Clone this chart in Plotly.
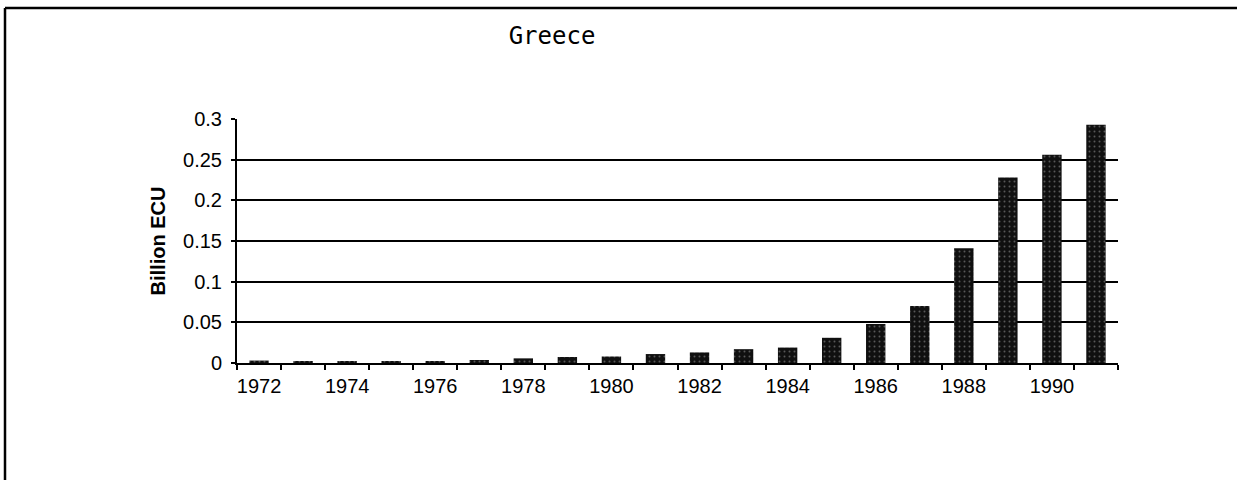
import plotly.graph_objects as go

years = list(range(1972, 1992))
values = [0.003, 0.0017, 0.0017, 0.0025, 0.002, 0.0037, 0.0057, 0.0074, 0.008, 0.011,
          0.013, 0.017, 0.019, 0.031, 0.048, 0.070, 0.141, 0.228, 0.256, 0.293]
x_tick_labels = [str(y) for y in range(1972, 1992, 2)]
y_tick_vals = [0, 0.05, 0.1, 0.15, 0.2, 0.25, 0.3]
y_tick_text = ["0", "0.05", "0.1", "0.15", "0.2", "0.25", "0.3"]
y_grid_vals = [0.05, 0.1, 0.15, 0.2, 0.25]

boundaries = [y - 0.5 for y in years] + [years[-1] + 0.5]

fig = go.Figure()
fig.add_trace(go.Bar(
    x=years, y=values,
    marker=dict(color="#101010", line=dict(width=0),
                pattern=dict(shape=".", fgcolor="#a0a0a0", bgcolor="#101010", size=5, solidity=0.12)),
    width=0.44,
    showlegend=False,
))

L, R, T, B = 237, 119, 119, 117
W, H = 1237, 480
pw, ph = W - L - R, H - T - B

def px_x(p):
    return (p - L) / pw

def px_y(p):
    return (H - B - p) / ph

fig.update_layout(
    width=W, height=H,
    margin=dict(l=L, r=R, t=T, b=B),
    paper_bgcolor="white", plot_bgcolor="white",
    font=dict(family="Liberation Sans, Arial, sans-serif", color="black", size=19),
    title=dict(text="Greece", xref="container", x=552 / W, xanchor="center",
               yref="container", y=1 - 36 / H, yanchor="middle",
               font=dict(family="DejaVu Sans Mono, monospace", size=24, color="black")),
    xaxis=dict(
        range=[boundaries[0], boundaries[-1]],
        tickmode="array", tickvals=list(range(1972, 1992, 2)), ticktext=x_tick_labels,
        ticks="", showgrid=False, zeroline=False,
        showline=True, linecolor="black", linewidth=2,
        tickfont=dict(size=20), ticklabelstandoff=4,
        minor=dict(tickmode="array", tickvals=boundaries, ticks="outside", ticklen=5,
                   tickwidth=2, tickcolor="black", showgrid=False),
    ),
    xaxis2=dict(
        overlaying="x", matches="x", range=[boundaries[0], boundaries[-1]],
        tickmode="array", tickvals=boundaries, ticks="inside", ticklen=4, tickwidth=2,
        tickcolor="black", showticklabels=False, showgrid=False, zeroline=False, showline=False,
    ),
    yaxis=dict(
        range=[0, 0.3],
        tickmode="array", tickvals=y_tick_vals, ticktext=y_tick_text,
        ticks="outside", ticklen=4, tickwidth=2, tickcolor="black",
        showgrid=False, zeroline=False,
        showline=True, linecolor="black", linewidth=2,
        tickfont=dict(size=20), ticklabelstandoff=5,
        title=dict(text="<b>Billion ECU</b>", font=dict(size=20), standoff=12),
        minor=dict(tickmode="array", tickvals=y_grid_vals, ticks="",
                   showgrid=True, gridcolor="black", gridwidth=2),
    ),
    shapes=[
        dict(type="line", xref="paper", yref="paper", x0=px_x(5), x1=px_x(W + 5),
             y0=px_y(8), y1=px_y(8), line=dict(color="black", width=2.5)),
        dict(type="line", xref="paper", yref="paper", x0=px_x(5), x1=px_x(5),
             y0=px_y(8), y1=px_y(H + 5), line=dict(color="black", width=2.5)),
    ],
)

fig.write_html("out.html", config={"displayModeBar": False},
               post_script="document.body.style.margin='0px';document.body.style.overflow='hidden';")
